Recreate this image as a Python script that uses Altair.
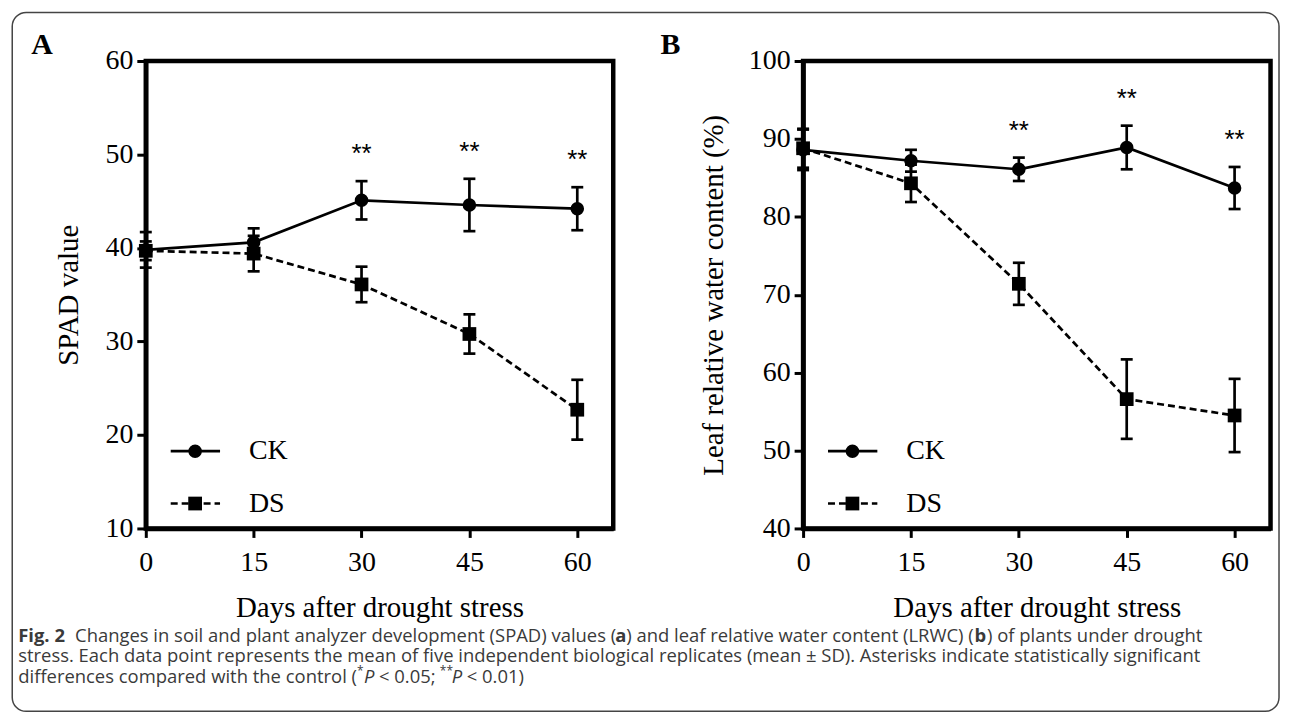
import altair as alt
import pandas as pd

# ---------------- data ----------------
days = [0, 15, 30, 45, 60]
spad_ck = [39.8, 40.6, 45.1, 44.6, 44.2]
spad_ck_sd = [1.9, 1.5, 2.05, 2.8, 2.3]
spad_ds = [39.7, 39.4, 36.1, 30.8, 22.7]
spad_ds_sd = [1.0, 1.9, 1.9, 2.1, 3.2]
lrwc_ck = [88.6, 87.2, 86.1, 88.9, 83.7]
lrwc_ck_sd = [2.6, 1.4, 1.5, 2.8, 2.7]
lrwc_ds = [88.8, 84.3, 71.4, 56.6, 54.5]
lrwc_ds_sd = [2.5, 2.4, 2.7, 5.1, 4.7]
sig = ["", "", "**", "**", "**"]
groups = ["CK", "DS"]
x_ticks = [0, 15, 30, 45, 60]
spad_ticks = [10, 20, 30, 40, 50, 60]
lrwc_ticks = [40, 50, 60, 70, 80, 90, 100]

# ---------------- layout constants ----------------
W, H = 469, 469
OX, OY = 144, 57.5          # page position of panel A plot area
SERIF = "Liberation Serif"
SANS = "Open Sans"
CAP_COLOR = "#3a3a3a"
dummy = pd.DataFrame({"k": [0]})


def px(x):
    return x - OX


def py(y):
    return y - OY


def text_at(x, y, txt, size, font=SERIF, weight="normal", style="normal",
            color="black", baseline="alphabetic", align="left"):
    return alt.Chart(dummy).mark_text(
        text=txt, font=font, fontSize=size, fontWeight=weight, fontStyle=style,
        color=color, baseline=baseline, align=align
    ).encode(x=alt.value(x), y=alt.value(y))


def panel(ck, ck_sd, ds, ds_sd, ydom, yticks, ytitle, ytitle_x, letter, letter_x, extra=None):
    df = pd.DataFrame({
        "day": days * 2,
        "mean": ck + ds,
        "sd": ck_sd + ds_sd,
        "group": [groups[0]] * len(days) + [groups[1]] * len(days),
        "sig": sig + [""] * len(days),
    })
    base = alt.Chart(df).transform_calculate(
        lo="datum.mean - datum.sd", hi="datum.mean + datum.sd"
    )
    xaxis = alt.Axis(values=x_ticks, title="Days after drought stress", labelFlush=False,
                     labelOverlap=False, labelPadding=11, titleX=W / 2, titleY=88.5,
                     titleBaseline="alphabetic", titleAnchor="middle")
    yaxis = alt.Axis(values=yticks, title=ytitle, labelFlush=False, labelOverlap=False,
                     labelPadding=4, titleX=ytitle_x, titleY=H / 2, titleBaseline="middle",
                     titleAnchor="middle")
    xs = alt.Scale(domain=[0, 65], nice=False, zero=False)
    ys = alt.Scale(domain=ydom, nice=False, zero=False)

    def X():
        return alt.X("day:Q", scale=xs, axis=xaxis)

    def Y(f):
        return alt.Y(f + ":Q", scale=ys, axis=yaxis)

    layers = []
    for g, dash, shape in [("CK", [1, 0], "circle"), ("DS", [7, 4], "square")]:
        b = base.transform_filter(alt.datum.group == g)
        line_kw = dict(color="black", strokeWidth=2.7)
        if g == "DS":
            line_kw["strokeDash"] = dash
        layers.append(b.mark_line(**line_kw).encode(x=X(), y=Y("mean")))
        layers.append(b.mark_rule(color="black", strokeWidth=2.7).encode(
            x=X(), y=Y("lo"), y2="hi:Q"))
        layers.append(b.mark_tick(color="black", orient="horizontal", size=12,
                                  thickness=2.7, opacity=1).encode(x=X(), y=Y("lo")))
        layers.append(b.mark_tick(color="black", orient="horizontal", size=12,
                                  thickness=2.7, opacity=1).encode(x=X(), y=Y("hi")))
        layers.append(b.mark_point(shape=shape, filled=True, color="black", opacity=1,
                                   size=185 if shape == "circle" else 190).encode(
            x=X(), y=Y("mean")))
    # significance asterisks above CK error bars
    layers.append(base.transform_filter(alt.datum.group == "CK").mark_text(
        font="Liberation Sans", fontSize=26, color="black", baseline="alphabetic",
        dy=-19).encode(x=X(), y=Y("hi"), text="sig:N"))

    # legend drawn inside the plot
    for g, yy, dash, shape in [("CK", 391.5, None, "circle"), ("DS", 444, [7, 4], "square")]:
        rk = dict(color="black", strokeWidth=2.7)
        if dash:
            rk["strokeDash"] = dash
        layers.append(alt.Chart(dummy).mark_rule(**rk).encode(
            x=alt.value(25), x2=alt.value(74.5), y=alt.value(yy)))
        layers.append(alt.Chart(dummy).mark_point(
            shape=shape, filled=True, color="black", opacity=1,
            size=185 if shape == "circle" else 190).encode(
            x=alt.value(49.5), y=alt.value(yy)))
        layers.append(text_at(103.5, yy, g, 28, baseline="middle"))

    layers.append(text_at(letter_x, -7.5, letter, 30, weight="bold"))
    if extra:
        layers = extra + layers
    return alt.layer(*layers).properties(width=W, height=H)


# ---------------- caption + outer frame (attached to panel A) ----------------
L1, L2, L3 = py(640.7), py(660.7), py(681.7)
cap = 18.5
sup = 12
extra = [
    alt.Chart(dummy).mark_rect(fillOpacity=0, stroke="#444", strokeWidth=1.5,
                               cornerRadius=14).encode(
        x=alt.value(px(10)), x2=alt.value(px(1281)),
        y=alt.value(py(8.75)), y2=alt.value(py(710))),
    text_at(px(16), L1, "Fig. 2", cap, SANS, "bold", color=CAP_COLOR),
    text_at(px(73), L1, "Changes in soil and plant analyzer development (SPAD) values (", cap, SANS, color=CAP_COLOR),
    text_at(px(615), L1, "a", cap, SANS, "bold", color=CAP_COLOR),
    text_at(px(626), L1, ") and leaf relative water content (LRWC) (", cap, SANS, color=CAP_COLOR),
    text_at(px(975.5), L1, "b", cap, SANS, "bold", color=CAP_COLOR),
    text_at(px(988), L1, ") of plants under drought", cap, SANS, color=CAP_COLOR),
    text_at(px(16), L2, "stress. Each data point represents the mean of five independent biological "
            "replicates (mean \u00b1 SD). Asterisks indicate statistically significant", cap, SANS, color=CAP_COLOR),
    text_at(px(16), L3, "differences compared with the control (", cap, SANS, color=CAP_COLOR),
    text_at(px(356), L3 - 8, "*", sup, SANS, color=CAP_COLOR),
    text_at(px(363), L3, "P", cap, SANS, style="italic", color=CAP_COLOR),
    text_at(px(378), L3, "< 0.05;", cap, SANS, color=CAP_COLOR),
    text_at(px(439), L3 - 8, "**", sup, SANS, color=CAP_COLOR),
    text_at(px(451), L3, "P", cap, SANS, style="italic", color=CAP_COLOR),
    text_at(px(466), L3, "< 0.01)", cap, SANS, color=CAP_COLOR),
]

chartA = panel(spad_ck, spad_ck_sd, spad_ds, spad_ds_sd, [10, 60], spad_ticks,
               "SPAD value", -78, "A", -115, extra)
chartB = panel(lrwc_ck, lrwc_ck_sd, lrwc_ds, lrwc_ds_sd, [40, 100], lrwc_ticks,
               "Leaf relative water content (%)", -90, "B", -143)

chart = alt.hconcat(chartA, chartB, spacing=190.5, bounds="flush").properties(
    padding={"left": 1.25, "top": 0, "right": 0, "bottom": 0}
).configure_view(
    stroke="black", strokeWidth=4.5
).configure_axis(
    grid=False, domainColor="black", domainWidth=4.5, tickColor="black", tickWidth=3,
    tickSize=9, labelFont=SERIF, labelFontSize=28, labelColor="black",
    titleFont=SERIF, titleFontSize=29, titleFontWeight="normal", titleColor="black"
)

chart.save("out.html", embed_options={"renderer": "svg", "actions": False})
